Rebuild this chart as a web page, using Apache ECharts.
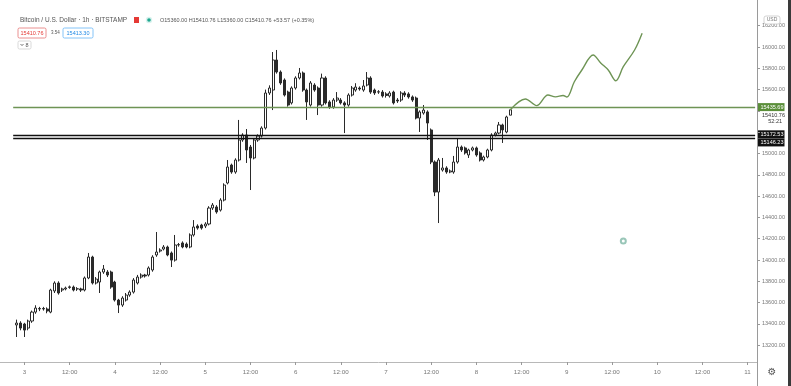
<!DOCTYPE html>
<html>
<head>
<meta charset="utf-8">
<script src="https://cdn.jsdelivr.net/npm/echarts@6/dist/echarts.min.js"></script>
<style>
html,body{margin:0;padding:0;background:#fff;}
#main{width:791px;height:386px;}
</style>
</head>
<body>
<div id="main"></div>
<script>
// ---- DATA (hourly candles, first candle = Nov 2 22:00, i.e. hour -2 relative to Nov 3 00:00) ----
const firstHour = -2;
const opens = [
13390,13408,13399,13361,13427,13511,13540,13545,13540,13511,
13709,13784,13718,13728,13742,13746,13728,13728,13718,13831,
14028,13784,13793,13887,13887,13887,13793,13624,13577,13624,
13671,13699,13784,13840,13859,13859,13906,14047,14084,14103,
14122,14066,13999,14141,14160,14150,14122,14235,14319,14328,
14319,14338,14488,14498,14469,14563,14723,14892,14826,14939,
15127,15174,15061,14958,15127,15164,15239,15568,15596,15878,
15765,15690,15577,15475,15615,15709,15756,15596,15455,15643,
15615,15455,15709,15484,15437,15502,15502,15475,15455,15549,
15596,15615,15596,15643,15709,15596,15577,15577,15559,15540,
15577,15502,15502,15568,15559,15531,15521,15333,15380,15390,
15221,14920,14638,14845,14864,14826,14826,14920,15061,15052,
14986,15033,15052,15005,14939,14967,15033,15174,15192,15268,
15202,15360];
const closes = [
13408,13361,13342,13427,13511,13549,13545,13540,13521,13718,
13784,13690,13728,13737,13748,13718,13730,13718,13831,14028,
13784,13821,13887,13915,13859,13746,13624,13577,13643,13671,
13699,13812,13840,13859,13850,13925,14028,14075,14094,14122,
14047,13999,14141,14145,14122,14122,14235,14310,14300,14300,
14338,14488,14516,14451,14563,14704,14873,14826,14939,15127,
15174,15033,14958,15127,15164,15239,15568,15615,15878,15765,
15662,15549,15455,15615,15709,15756,15596,15484,15662,15596,
15455,15709,15475,15437,15502,15521,15475,15455,15549,15615,
15624,15606,15634,15709,15577,15568,15580,15540,15545,15568,
15475,15493,15568,15549,15531,15502,15333,15390,15408,15286,
14920,14638,14939,14864,14826,14836,14920,15061,15033,15005,
15033,15052,14986,14939,14967,15033,15174,15192,15268,15221,
15343,15410.76];
const lows = [
13277,13340,13277,13340,13410,13495,13520,13525,13500,13500,
13690,13675,13700,13715,13730,13705,13710,13700,13705,13820,
13770,13770,13690,13870,13840,13730,13610,13502,13560,13610,
13655,13685,13770,13825,13835,13845,13890,14030,14070,14090,
14035,13934,13985,14125,14110,14110,14110,14220,14285,14285,
14300,14325,14470,14435,14455,14550,14710,14810,14810,14925,
15110,14911,14657,14945,15110,15150,15225,15550,15408,15750,
15645,15535,15440,15460,15600,15695,15580,15315,15440,15580,
15361,15440,15460,15420,15420,15485,15460,15192,15440,15535,
15580,15590,15580,15630,15560,15550,15560,15525,15525,15525,
15460,15475,15485,15530,15515,15485,15320,15202,15365,15127,
14900,14600,14347,14830,14810,14815,14810,14905,15015,14990,
14958,15020,14970,14925,14925,14955,15020,15160,15180,15099,
15190,15360];
const highs = [
13440,13425,13410,13440,13525,13575,13560,13560,13555,13730,
13800,13800,13740,13750,13760,13760,13745,13740,13845,14066,
14040,13840,13900,13953,13905,13900,13805,13635,13660,13690,
13715,13830,13860,13875,13870,13940,14045,14263,14110,14140,
14135,14080,14235,14160,14175,14165,14250,14375,14335,14340,
14355,14505,14535,14515,14580,14720,14939,14905,14955,15315,
15190,15230,15080,15145,15180,15255,15600,15640,15953,15972,
15780,15705,15590,15630,15725,15803,15770,15610,15680,15660,
15630,15750,15725,15500,15520,15577,15520,15490,15565,15634,
15660,15630,15690,15765,15725,15610,15595,15595,15575,15585,
15590,15520,15585,15585,15575,15545,15535,15405,15455,15405,
15235,14935,14958,14958,14880,14850,14977,15145,15075,15065,
15045,15065,15065,15020,14980,15045,15190,15205,15296,15280,
15355,15410.76];

// projected path (hour, price)
const forecastHours  = [129,133,136,139,141,143,144,146,148,151,153,155,157,159,162,164];
const forecastPrices = [15410,15512,15450,15549,15532,15545,15530,15674,15784,15925,15850,15784,15683,15815,15972,16130];

// horizontal levels
const greenLevel = 15435.69;
const blackLevels = [15172.53, 15146.23];
const lastPrice = 15410.76;
const countdown = '52:21';

// marker circle (hour, price)
const markerPoint = [159, 14178];

// axis labels
const dayLabels = ['3','4','5','6','7','8','9','10','11'];
const halfDayLabel = '12:00';
const axisStartHour = -6, axisEndHour = 194;

// header
const titleText = 'Bitcoin / U.S. Dollar · 1h · BITSTAMP';
const ohlcText = 'O15360.00 H15410.76 L15360.00 C15410.76 +53.57 (+0.35%)';
const bidText = '15410.76', spreadText = '3.54', askText = '15413.30';

// ---- build ----
const cats = [];
for (let h = axisStartHour; h <= axisEndHour; h++) cats.push('h' + h);
const off = -axisStartHour;
const candleData = cats.map((c, i) => {
  const k = i - off - firstHour;
  if (k >= 0 && k < opens.length) return [opens[k], closes[k], lows[k], highs[k]];
  return '-';
});
const forecastData = forecastHours.map((h, i) => [h + off, forecastPrices[i]]);

const FONT = 'Liberation Sans';
const chart = echarts.init(document.getElementById('main'));
const gridL = 0, gridR = 34;
const lastCat = cats[cats.length - 1];
const firstLineCat = cats[3];

chart.setOption({
  animation: false,
  backgroundColor: '#ffffff',
  grid: [
    {left: gridL, right: gridR, top: 4.4, bottom: 19.5},
    {left: gridL, right: gridR, top: 0, bottom: 24}
  ],
  xAxis: [
    {type: 'category', data: cats, gridIndex: 0, show: false, boundaryGap: true},
    {type: 'category', data: cats, gridIndex: 1, boundaryGap: true,
     axisLine: {show: true, lineStyle: {color: '#b8b8b8', width: 1}},
     axisTick: {show: true, alignWithLabel: true, length: 3, lineStyle: {color: '#999'},
       interval: (i) => { const h = i - off; return h >= 0 && h % 12 === 0; }},
     axisLabel: {show: true, color: '#777', fontSize: 6.2, fontFamily: FONT, margin: 7,
       interval: (i) => { const h = i - off; return h >= 0 && h % 12 === 0; },
       formatter: (v, i) => { const h = i - off; return h % 24 === 0 ? dayLabels[h / 24] : halfDayLabel; }},
     splitLine: {show: false}}
  ],
  yAxis: [
    {type: 'value', gridIndex: 0, position: 'right', min: 13000, max: 16400, interval: 200,
     axisLine: {show: false},
     axisTick: {show: true, length: 3, lineStyle: {color: '#999'}},
     axisLabel: {color: '#777', fontSize: 5.5, fontFamily: FONT, margin: 5,
       showMinLabel: false, showMaxLabel: false,
       formatter: (v) => (v === 15400 || v === 15200) ? '' : v.toFixed(2)},
     splitLine: {show: false}},
    {type: 'value', gridIndex: 1, show: false, min: 0, max: 1}
  ],
  series: [
    {type: 'candlestick', xAxisIndex: 0, yAxisIndex: 0, data: candleData, barWidth: '68%',
     itemStyle: {color: '#ffffff', color0: '#2a2a2a', borderColor: '#2a2a2a', borderColor0: '#2a2a2a', borderWidth: 1},
     markLine: {silent: true, symbol: 'none', label: {show: false}, animation: false,
       data: [
         [{coord: [firstLineCat, greenLevel], lineStyle: {color: '#6e9455', width: 1.4, type: 'solid'}}, {coord: [lastCat, greenLevel]}],
         [{coord: [firstLineCat, blackLevels[0]], lineStyle: {color: '#111', width: 1.4, type: 'solid'}}, {coord: [lastCat, blackLevels[0]]}],
         [{coord: [firstLineCat, blackLevels[1]], lineStyle: {color: '#111', width: 1.4, type: 'solid'}}, {coord: [lastCat, blackLevels[1]]}]
       ]}},
    {type: 'line', xAxisIndex: 0, yAxisIndex: 0, data: forecastData, smooth: 0.35, symbol: 'none',
     lineStyle: {color: '#6e9455', width: 1.4}, z: 3},
    {type: 'scatter', xAxisIndex: 0, yAxisIndex: 0, data: [[markerPoint[0] + off, markerPoint[1]]],
     symbol: 'emptyCircle', symbolSize: 5, itemStyle: {color: '#7fb8a6', borderWidth: 1}}
  ]
});

const yPix = (v) => chart.convertToPixel({yAxisIndex: 0}, v);
const axisX = 791 - gridR;

function tag(v, dy, bg, fg, txt) {
  const y = yPix(v) + dy;
  return {type: 'group', x: axisX + 0.5, y: y, z: 100, children: [
    {type: 'rect', shape: {x: 0, y: -4, width: 27, height: 8}, style: {fill: bg}},
    {type: 'text', style: {x: 3, y: 0, text: txt, fill: fg, font: '5.5px ' + FONT,
      textVerticalAlign: 'middle', verticalAlign: 'middle'}}
  ]};
}
function txt(x, y, s, size, color, extra) {
  return Object.assign({type: 'text', z: 100, style: Object.assign({x: x, y: y, text: s, fill: color,
    font: size + 'px ' + FONT, textVerticalAlign: 'middle', verticalAlign: 'middle'}, extra || {})});
}

const graphics = [
  // price scale separator and right border
  {type: 'line', z: 90, shape: {x1: axisX + 0.5, y1: 0, x2: axisX + 0.5, y2: 386}, style: {stroke: '#9a9a9a', lineWidth: 1}},
  {type: 'rect', z: 90, shape: {x: 788, y: 0, width: 3, height: 386}, style: {fill: '#3a3a3a'}},
  // price tags
  tag(greenLevel, 0, '#5b8f3a', '#ffffff', greenLevel.toFixed(2)),
  txt(axisX + 5, yPix(lastPrice) + 5.5, lastPrice.toFixed(2), 5.5, '#333'),
  txt(axisX + 25, yPix(lastPrice) + 12, countdown, 5.5, '#333', {textAlign: 'right', align: 'right'}),
  tag(blackLevels[0], -0.8, '#111111', '#ffffff', blackLevels[0].toFixed(2)),
  tag(blackLevels[1], 4.5, '#111111', '#ffffff', blackLevels[1].toFixed(2)),
  // USD box
  {type: 'rect', z: 100, shape: {x: 764, y: 16, width: 16, height: 8, r: 2}, style: {fill: '#fff', stroke: '#c8c8c8', lineWidth: 0.8}},
  txt(772, 20, 'USD', 5, '#777', {textAlign: 'center', align: 'center'}),
  // gear
  txt(772, 372, '⚙', 10, '#555', {textAlign: 'center', align: 'center', font: '10px DejaVu Sans'}),
  // header line 1
  txt(20, 20, titleText, 6.5, '#555'),
  {type: 'rect', z: 100, shape: {x: 134, y: 17, width: 5, height: 6}, style: {fill: '#e53935'}},
  {type: 'circle', z: 100, shape: {cx: 149, cy: 20, r: 3.2}, style: {fill: '#d9f2ee'}},
  {type: 'circle', z: 101, shape: {cx: 149, cy: 20, r: 1.8}, style: {fill: '#1fa88f'}},
  txt(160, 20, ohlcText, 5.5, '#555'),
  // header line 2
  {type: 'rect', z: 100, shape: {x: 18, y: 28, width: 28, height: 10, r: 1.5}, style: {fill: '#fff', stroke: '#e57373', lineWidth: 0.8}},
  txt(32, 33, bidText, 5.5, '#e53935', {textAlign: 'center', align: 'center'}),
  txt(51, 33, spreadText, 4.5, '#555'),
  {type: 'rect', z: 100, shape: {x: 63, y: 28, width: 30, height: 10, r: 1.5}, style: {fill: '#fff', stroke: '#64b5f6', lineWidth: 0.8}},
  txt(78, 33, askText, 5.5, '#1e88e5', {textAlign: 'center', align: 'center'}),
  // header line 3
  {type: 'rect', z: 100, shape: {x: 18, y: 41, width: 13, height: 8, r: 1.5}, style: {fill: '#fff', stroke: '#cfcfcf', lineWidth: 0.8}},
  {type: 'polyline', z: 101, shape: {points: [[20.5, 44], [22, 45.6], [23.5, 44]]}, style: {stroke: '#555', lineWidth: 0.8, fill: null}},
  txt(25.5, 45, '8', 5.5, '#555')
];
chart.setOption({graphic: graphics});
</script>
</body>
</html>
